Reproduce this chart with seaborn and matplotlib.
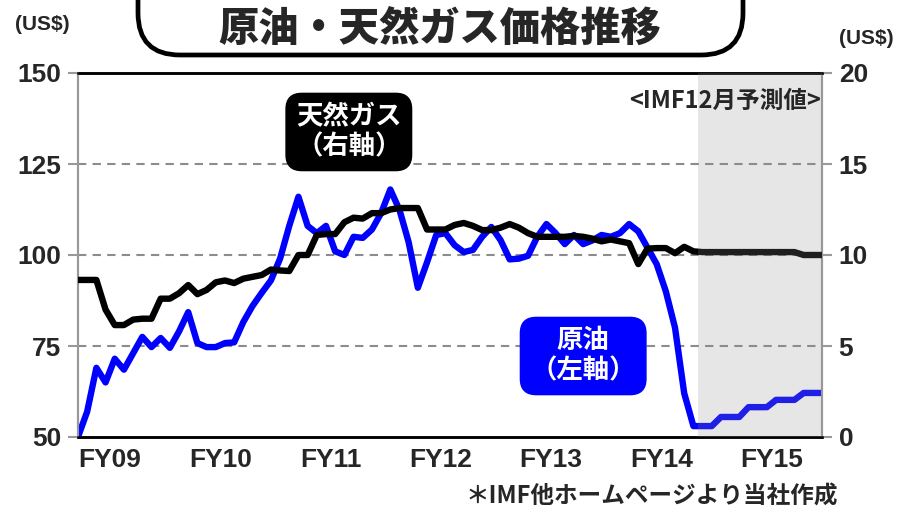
import numpy as np
import pandas as pd
import matplotlib
matplotlib.use("Agg")
import matplotlib.pyplot as plt
import seaborn as sns
from matplotlib import font_manager
from matplotlib.patches import FancyBboxPatch

# monthly data, FY09 .. FY15 (last months are IMF forecast)
crude_oil = [50, 57, 69, 65, 71.5, 68.5, 73, 77.5, 74.7, 77.2,
             74.5, 79, 84.3, 75.8, 74.7, 74.7, 75.8, 76, 81.6, 86,
             89.6, 93, 99, 108, 116, 108, 106, 108, 101, 100,
             105, 104.7, 107, 111.5, 118, 112.4, 103.5, 91, 98, 105.5,
             106, 102.7, 100.8, 101.4, 105, 107.7, 104.1, 98.8, 99, 99.8,
             105, 108.5, 106, 103, 105.5, 103, 104, 105.5, 105, 106,
             108.5, 106.5, 102, 97.5, 90, 80, 62, 53, 53, 53,
             55.5, 55.5, 55.5, 58.2, 58.2, 58.2, 60.2, 60.2, 60.2, 62.1,
             62.1, 62.1]
natural_gas = [8.63, 8.63, 8.63, 7.0, 6.15, 6.15, 6.45, 6.5, 6.5, 7.6,
               7.6, 7.9, 8.35, 7.85, 8.08, 8.5, 8.6, 8.46, 8.7, 8.8,
               8.9, 9.2, 9.15, 9.12, 10.0, 10.0, 11.1, 11.15, 11.15, 11.8,
               12.05, 12.0, 12.3, 12.3, 12.5, 12.58, 12.58, 12.58, 11.4, 11.4,
               11.4, 11.65, 11.76, 11.6, 11.37, 11.37, 11.5, 11.7, 11.5, 11.2,
               11.0, 11.0, 11.0, 11.0, 11.05, 11.0, 10.9, 10.75, 10.85, 10.75,
               10.65, 9.5, 10.35, 10.38, 10.38, 10.1, 10.45, 10.2, 10.16, 10.16,
               10.16, 10.16, 10.16, 10.16, 10.16, 10.16, 10.16, 10.16, 10.16, 10.0,
               10.0, 10.0]
fy_labels = ["FY09", "FY10", "FY11", "FY12", "FY13", "FY14", "FY15"]
left_ticks = [50, 75, 100, 125, 150]
right_ticks = [0, 5, 10, 15, 20]
forecast_start = 67.5

df = pd.DataFrame({"month": np.arange(len(crude_oil)),
                   "oil": crude_oil, "gas": natural_gas})

sns.set_style("white")
names = {f.name for f in font_manager.fontManager.ttflist}
num_font = "Liberation Sans Narrow" if "Liberation Sans Narrow" in names else "Liberation Sans"
jp = "Noto Sans CJK JP"
plt.rcParams["font.family"] = [jp, "DejaVu Sans"]

fig = plt.figure(figsize=(8.98, 5.12), dpi=100)
ax = fig.add_axes([78 / 898, 1 - 437 / 512, 744 / 898, 364 / 512])
ax2 = ax.twinx()

sns.lineplot(data=df, x="month", y="oil", ax=ax, color="#0000ff", lw=4.6,
             solid_joinstyle="round", solid_capstyle="round", zorder=3)
sns.lineplot(data=df, x="month", y="gas", ax=ax2, color="black", lw=4.6,
             solid_joinstyle="round", solid_capstyle="round", zorder=3)

xmax = len(crude_oil) - 1
ax.set_xlim(0, xmax)
ax.set_ylim(50, 150)
ax2.set_ylim(0, 20)
ax.set_yticks(left_ticks)
ax2.set_yticks(right_ticks)
ax.set_xticks(np.arange(len(fy_labels)) * 12 + 3.5)
ax.set_xticklabels(fy_labels)
ax.set_xlabel("")
ax.set_ylabel("")
ax2.set_ylabel("")

for t in [75, 100, 125]:
    ax.axhline(t, color="#8c8c8c", lw=1.5, ls=(0, (4, 3)), zorder=1)

# forecast shading drawn over lines
ax2.axvspan(forecast_start, xmax, color="#8f8f8f", alpha=0.22, lw=0, zorder=5)

for a in (ax, ax2):
    a.spines["top"].set_color("black")
    a.spines["top"].set_linewidth(1.8)
    a.spines["bottom"].set_color("black")
    a.spines["bottom"].set_linewidth(1.8)
    a.spines["left"].set_color("#999999")
    a.spines["left"].set_linewidth(1.5)
    a.spines["right"].set_color("#999999")
    a.spines["right"].set_linewidth(1.5)

ax.tick_params(axis="y", length=7, width=1.5, color="#999999", pad=5)
ax2.tick_params(axis="y", length=7, width=1.5, color="#999999", pad=5)
ax.tick_params(axis="x", length=0, pad=8)
for lab in ax.get_yticklabels() + ax2.get_yticklabels() + ax.get_xticklabels():
    lab.set_fontfamily(num_font)
    lab.set_fontweight("bold")
    lab.set_fontsize(19)

# (US$) unit labels
fig.text(42 / 898, 1 - 25 / 512, "(US$)", ha="center", va="center",
         fontsize=15, fontweight="bold", family=num_font)
fig.text(866 / 898, 1 - 38 / 512, "(US$)", ha="center", va="center",
         fontsize=15, fontweight="bold", family=num_font)

# title box
box = FancyBboxPatch((1.38, 4.57), 6.05, 1.2, boxstyle="round,pad=0,rounding_size=0.42",
                     transform=fig.dpi_scale_trans, fc="white", ec="black", lw=3.4,
                     clip_on=False)
fig.add_artist(box)
fig.text(440 / 898, 1 - 30 / 512, "原油・天然ガス価格推移", ha="center", va="center",
         fontsize=29, fontweight="heavy")

ax2.text(0.998, 0.955, "<IMF12月予測値>", transform=ax.transAxes, ha="right",
         va="top", fontsize=17, fontweight="bold", zorder=6)

ax2.text(0.364, 0.838, "天然ガス\n（右軸）", transform=ax.transAxes, ha="center",
         va="center", fontsize=19, fontweight="bold", color="white", linespacing=1.15,
         bbox=dict(boxstyle="round,pad=0.38,rounding_size=0.6", fc="black", ec="black"),
         zorder=7)
ax2.text(0.679, 0.2225, "原油\n（左軸）", transform=ax.transAxes, ha="center",
         va="center", fontsize=19, fontweight="bold", color="white", linespacing=1.15,
         bbox=dict(boxstyle="round,pad=0.38,rounding_size=0.6", fc="#0000ff", ec="#0000ff"),
         zorder=7)

fig.text(652 / 898, 1 - 497 / 512, "＊IMF他ホームページより当社作成", ha="center",
         va="center", fontsize=17, fontweight="bold")

fig.savefig("out.png", dpi=100)
